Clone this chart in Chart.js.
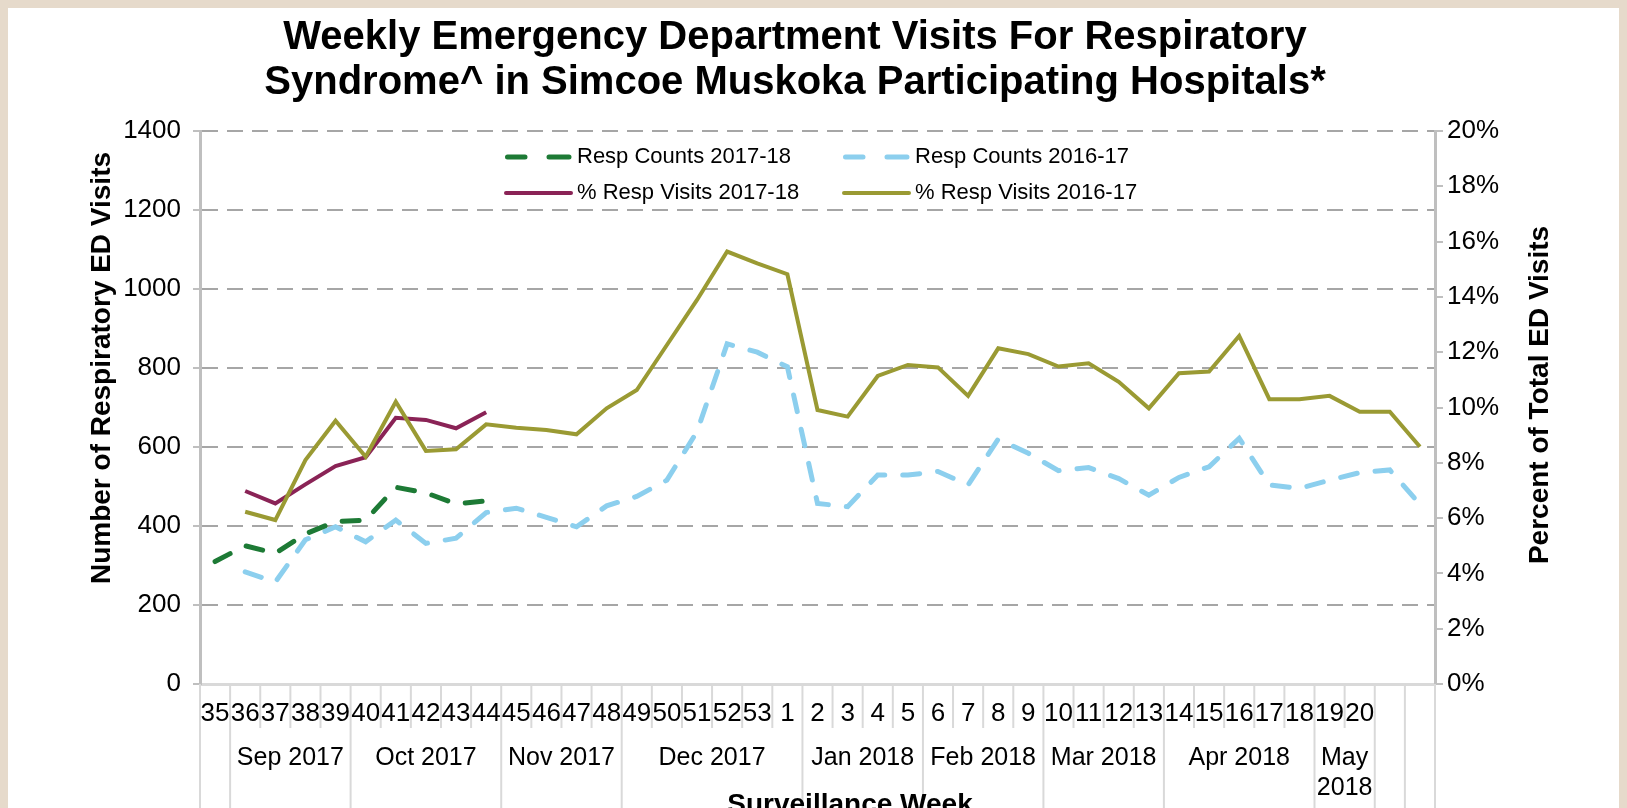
<!DOCTYPE html>
<html>
<head>
<meta charset="utf-8">
<script src="https://cdn.jsdelivr.net/npm/chart.js@4.4.1/dist/chart.umd.min.js"></script>
<style>
html,body{margin:0;padding:0;background:#e6dacb;overflow:hidden;}
canvas{position:absolute;left:0;top:0;}
</style>
</head>
<body>
<canvas id="edChart" width="1627" height="808"></canvas>
<script>
// surveillance weeks (two blank slots at the end, as in the source chart)
var weeks = ['35','36','37','38','39','40','41','42','43','44','45','46','47','48','49','50','51','52','53',
	'1','2','3','4','5','6','7','8','9','10','11','12','13','14','15','16','17','18','19','20','',''];

// month groups under the week labels: first week index of each group
var monthNames = ['', 'Sep 2017', 'Oct 2017', 'Nov 2017', 'Dec 2017', 'Jan 2018', 'Feb 2018', 'Mar 2018', 'Apr 2018', 'May|2018', '', ''];
var monthStarts = [0, 1, 5, 10, 14, 20, 24, 28, 32, 37, 39, 40];

var counts1718 = [310,350,331,380,411,415,498,484,456,464];
var counts1617 = [null,284,258,365,398,360,415,356,369,434,445,422,398,451,475,516,639,861,840,803,
	457,449,529,529,538,504,620,584,540,548,520,478,523,550,622,504,495,516,535,542,455];
var pct1718 = [null,6.98,6.53,7.22,7.88,8.2,9.63,9.55,9.25,9.83];
var pct1617 = [null,6.23,5.93,8.1,9.52,8.22,10.21,8.43,8.49,9.39,9.27,9.19,9.03,9.97,10.63,12.26,13.89,15.64,15.21,14.82,
	9.91,9.67,11.14,11.54,11.45,10.42,12.14,11.93,11.48,11.6,10.93,9.97,11.24,11.3,12.59,10.3,10.3,10.42,9.85,9.85,8.58];

var FONT = '"Liberation Sans", Arial, sans-serif';

var decor = {
	id:'decor',
	beforeDraw:function(chart){
		var c = chart.ctx;
		c.save();
		c.fillStyle = '#e6dacb';
		c.fillRect(0, 0, chart.width, chart.height);
		c.fillStyle = '#ffffff';
		c.fillRect(8, 8, 1611, 800);
		c.restore();
	},
	afterDraw:function(chart){
		var c = chart.ctx;
		var xs = chart.scales.x;
		var area = chart.chartArea;
		c.save();

		// title
		c.fillStyle = '#000';
		c.font = 'bold 40px ' + FONT;
		c.textAlign = 'center';
		c.textBaseline = 'middle';
		c.fillText('Weekly Emergency Department Visits For Respiratory', 795, 38);
		c.fillText('Syndrome^ in Simcoe Muskoka Participating Hospitals*', 795, 83);

		// axis titles
		c.font = 'bold 28px ' + FONT;
		c.save();
		c.translate(102, 368);
		c.rotate(-Math.PI/2);
		c.fillText('Number of Respiratory ED Visits', 0, 0);
		c.restore();
		c.save();
		c.translate(1540, 395);
		c.rotate(-Math.PI/2);
		c.fillText('Percent of Total ED Visits', 0, 0);
		c.restore();

		// category separators
		var step = xs.getPixelForValue(1) - xs.getPixelForValue(0);
		var edge = function(i){ return xs.getPixelForValue(0) - step/2 + i*step; };
		c.strokeStyle = '#d9d9d9';
		c.lineWidth = 2;
		for (var i = 0; i <= weeks.length; i++) {
			var longLine = monthStarts.indexOf(i) >= 0 || i === weeks.length;
			c.beginPath();
			c.moveTo(edge(i), area.bottom);
			c.lineTo(edge(i), longLine ? 808 : 728);
			c.stroke();
		}

		// month labels
		c.fillStyle = '#000';
		c.font = '25px ' + FONT;
		for (var m = 0; m < monthNames.length; m++) {
			var a = monthStarts[m];
			var b = m + 1 < monthStarts.length ? monthStarts[m+1] : weeks.length;
			var cx = (edge(a) + edge(b)) / 2;
			var parts = monthNames[m].split('|');
			for (var p = 0; p < parts.length; p++) {
				c.fillText(parts[p], cx, 758 + p*30);
			}
		}

		c.font = 'bold 28px ' + FONT;
		c.textBaseline = 'alphabetic';
		c.fillText('Surveillance Week', 850, 813);

		// legend
		var spots = [[505,157],[843,157],[505,193],[843,193]];
		c.textAlign = 'left';
		c.textBaseline = 'middle';
		c.font = '22px ' + FONT;
		chart.data.datasets.forEach(function(ds, k){
			var x = spots[k][0], y = spots[k][1];
			c.strokeStyle = ds.borderColor;
			c.lineWidth = ds.borderWidth;
			c.lineCap = 'round';
			c.beginPath();
			if (ds.borderDash) {
				c.moveTo(x + 2.5, y); c.lineTo(x + 20, y);
				c.moveTo(x + 44, y); c.lineTo(x + 64, y);
			} else {
				c.moveTo(x + 1, y); c.lineTo(x + 66, y);
			}
			c.stroke();
			c.fillStyle = '#000';
			c.fillText(ds.label, x + 72, y);
		});
		c.restore();
	}
};

var edChart = new Chart(document.getElementById('edChart'), {
	type:'line',
	data:{
		labels:weeks,
		datasets:[{
			label:'Resp Counts 2017-18',
			data:counts1718,
			yAxisID:'y',
			borderColor:'#1d7a35',
			borderWidth:5,
			borderDash:[17,18],
			borderCapStyle:'round',
			pointRadius:0,
			order:3
		},
		{
			label:'Resp Counts 2016-17',
			data:counts1617,
			yAxisID:'y',
			borderColor:'#8ccfee',
			borderWidth:5,
			borderDash:[17,18],
			borderCapStyle:'round',
			pointRadius:0,
			order:4
		},
		{
			label:'% Resp Visits 2017-18',
			data:pct1718,
			yAxisID:'y1',
			borderColor:'#8a2356',
			borderWidth:4,
			pointRadius:0,
			order:2
		},
		{
			label:'% Resp Visits 2016-17',
			data:pct1617,
			yAxisID:'y1',
			borderColor:'#9a9a33',
			borderWidth:4,
			pointRadius:0,
			order:1
		}]
	},
	plugins:[decor],
	options:{
		responsive:false,
		animation:false,
		layout:{padding:{top:131, left:0, right:0, bottom:0}},
		plugins:{legend:{display:false}, title:{display:false}, tooltip:{enabled:false}},
		scales:{
			x:{
				offset:true,
				grid:{display:false, drawTicks:false},
				border:{color:'#d9d9d9', width:3},
				ticks:{color:'#000', font:{size:26, family:FONT}, padding:14, maxRotation:0, autoSkip:false},
				afterFit:function(s){ s.height = 124; }
			},
			y:{
				position:'left',
				min:0, max:1400,
				ticks:{stepSize:200, color:'#000', font:{size:26, family:FONT}, padding:12,
					callback:function(v){ return String(v); }},
				grid:{
					color:function(ctx){ return ctx.tick && ctx.tick.value === 0 ? 'rgba(0,0,0,0)' : '#a6a6a6'; },
					lineWidth:2, tickLength:7, tickColor:'#bfbfbf', tickWidth:2, tickBorderDash:[]
				},
				border:{color:'#bfbfbf', width:3, dash:[16,9]},
				afterFit:function(s){ s.width = 200; }
			},
			y1:{
				position:'right',
				min:0, max:20,
				ticks:{stepSize:2, color:'#000', font:{size:26, family:FONT}, padding:4,
					callback:function(v){ return v + '%'; }},
				grid:{drawOnChartArea:false, tickLength:8, color:'#bfbfbf', lineWidth:2},
				border:{color:'#bfbfbf', width:3},
				afterFit:function(s){ s.width = 192; }
			}
		}
	}
});
</script>
</body>
</html>
